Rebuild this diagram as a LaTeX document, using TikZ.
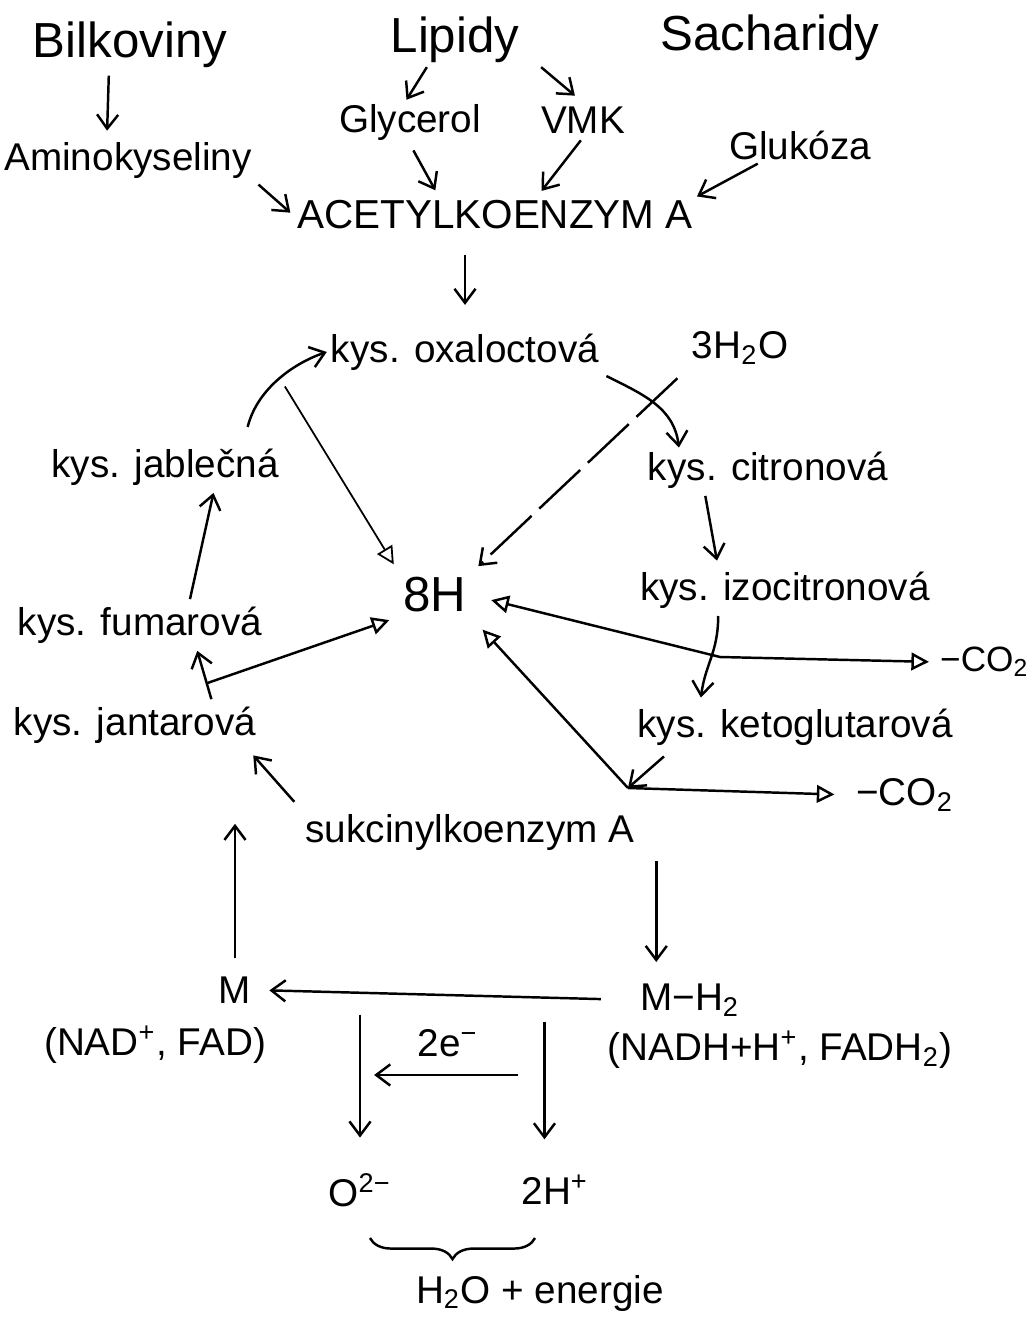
\documentclass[tikz,border=0pt]{standalone}
\usepackage{fontspec}
\setmainfont{Liberation Sans}
\usetikzlibrary{arrows.meta,decorations.pathreplacing}

\begin{document}
\begin{tikzpicture}[x=0.01cm,y=-0.01cm]

\tikzstyle{lbl}=[font=\fontsize{11}{13}\selectfont,inner sep=1pt]
\tikzstyle{big}=[font=\fontsize{14}{16}\selectfont,inner sep=1pt]
\tikzstyle{flow}=[-{Straight Barb[length=4pt,width=6pt]},line width=0.7pt]
\tikzstyle{hflow}=[-{Triangle[open,length=5pt,width=5pt]},line width=0.7pt]

\useasboundingbox (0,0) rectangle (1026,1321);

% zdroje
\node[big] (bilk) at (130,45) {Bilkoviny};
\node[lbl] (amino) at (128,160) {Aminokyseliny};
\node[big] (lipidy) at (455,40) {Lipidy};
\node[big] (sach) at (770,38) {Sacharidy};
\node[lbl] (glyc) at (410,122) {Glycerol};
\node[lbl] (vmk) at (583,120) {VMK};
\node[lbl] (gluk) at (800,145) {Glukóza};
\node[lbl,font=\fontsize{11.5}{13}\selectfont] (acetyl) at (495,215) {ACETYLKOENZYM A};

% cyklus
\foreach \name/\pos/\txt in {oxal/{(465,352)}/oxaloctová, citr/{(768,470)}/citronová,
    izoc/{(785,590)}/izocitronová, keto/{(795,727)}/ketoglutarová,
    jant/{(135,725)}/jantarová, fum/{(140,625)}/fumarová, jabl/{(165,467)}/jablečná}
  \node[lbl] (\name) at \pos {kys. \txt};
\node[lbl] (voda) at (740,348) {3H\textsubscript{2}O};
\node[big] (osmh) at (435,595) {8H};
\node[lbl] (sukc) at (470,832) {sukcinylkoenzym A};
\node[lbl,font=\fontsize{10}{12}\selectfont,anchor=west] (coa) at (936,662) {−CO\textsubscript{2}};
\node[lbl,anchor=west] (cob) at (852,795) {−CO\textsubscript{2}};
\coordinate (iz) at (720,657);
\coordinate (sj) at (628,788);

% dychaci retezec
\node[lbl] (m) at (235,990) {M};
\node[lbl] (mh) at (690,1000) {M−H\textsubscript{2}};
\node[lbl] (nad) at (155,1045) {(NAD\textsuperscript{+}, FAD)};
\node[lbl] (nadh) at (780,1050) {(NADH+H\textsuperscript{+}, FADH\textsubscript{2})};
\node[lbl] (elek) at (448,1043) {2e\textsuperscript{−}};
\node[lbl] (kysl) at (360,1190) {O\textsuperscript{2−}};
\node[lbl] (vodik) at (555,1190) {2H\textsuperscript{+}};
\node[lbl] (prod) at (540,1293) {H\textsubscript{2}O + energie};

% sipky nahore
\draw[flow,shorten <=1pt,shorten >=2pt] ([xshift=-6pt]bilk.south) -- ([xshift=-6pt]amino.north);
\draw[flow] ([xshift=-8pt]lipidy.south) -- ([xshift=-1pt]glyc.north);
\draw[flow,shorten >=3pt] ([xshift=5pt]lipidy.south east) -- (vmk.north);
\draw[flow,shorten <=1pt,shorten >=1pt] (amino.south east) -- (acetyl.west);
\draw[flow,shorten <=2pt,shorten >=2pt] (glyc.south) -- ([xshift=-16pt]acetyl.north);
\draw[flow,shorten <=1pt,shorten >=2pt] (vmk.south) -- ([xshift=12pt]acetyl.north);
\draw[flow] ([xshift=-12pt]gluk.south) -- (acetyl.north east);
\draw[flow,shorten <=6pt,shorten >=7pt] (acetyl.south -| oxal.north) -- (oxal.north);

% sipky v cyklu
\draw[flow] ([xshift=-10pt,yshift=5pt]jabl.north east) .. controls +(10,-40) and +(-30,10) .. (oxal.west);
\draw[flow,shorten <=1pt] (oxal.south east) .. controls +(40,20) and +(-5,-40) .. ([xshift=10pt]citr.north west);
\draw[flow,shorten <=1pt,shorten >=2pt] ([xshift=-18pt]citr.south) -- ([xshift=-19pt]izoc.north);
\draw[flow,shorten <=1pt,shorten >=2pt] ([xshift=-19pt]izoc.south) .. controls +(0,40) and +(5,-40) .. ([xshift=-27pt]keto.north);
\draw[flow,shorten <=3pt] ([xshift=-35pt]keto.south) -- (sj);
\draw[flow,shorten <=3pt,shorten >=3pt] (sukc.north west) -- ([xshift=-4pt]jant.south east);
\draw[flow,shorten <=1pt,shorten >=1pt] ([xshift=22pt]jant.north) -- coordinate[pos=0.35] (jf) ([xshift=16pt]fum.south);
\draw[flow,shorten <=1pt,shorten >=1pt] ([xshift=14pt]fum.north) -- ([xshift=14pt]jabl.south);

% vodik a CO2
\draw[line width=0.7pt,dash pattern=on 16pt off 3pt,-{Straight Barb[length=4pt,width=6pt]},shorten <=4pt,shorten >=3pt] (voda.south west) -- (osmh.north east);
\draw[hflow,line width=0.5pt,shorten <=4pt,shorten >=3pt] ([xshift=-14pt]oxal.south west) -- (osmh.north west);
\draw[hflow,shorten >=3pt] (jf) -- (osmh.south west);
\draw[hflow,shorten >=6pt] (iz) -- (osmh.east);
\draw[hflow,shorten >=5pt] (sj) -- (osmh.south east);
\draw[hflow,shorten >=2pt] (iz) -- (coa.west);
\draw[hflow,shorten >=5pt] (sj) -- (cob.west);

% dychaci retezec
\draw[flow,shorten <=2pt,shorten >=5pt] ([xshift=5pt]sukc.south east) -- ([xshift=5pt]sukc.south east |- mh.north);
\draw[flow,shorten <=4pt,shorten >=4pt] (m.north) -- (m.north |- sukc.north);
\draw[flow,shorten <=10pt,shorten >=4pt] (mh.west) -- (m.east);
\draw[flow,shorten <=2pt,shorten >=9pt] (kysl.north |- m.south) -- (kysl.north);
\draw[flow,shorten <=4pt,shorten >=9pt] ([xshift=-3pt]vodik.north |- m.south) -- ([xshift=-3pt]vodik.north);
\draw[flow] ([xshift=20pt,yshift=-4pt]elek.south) -- ([xshift=-21pt,yshift=-4pt]elek.south);
\draw[line width=0.7pt,decorate,decoration={brace,mirror,amplitude=6pt}] (370,1238) -- (535,1238);

\end{tikzpicture}
\end{document}
